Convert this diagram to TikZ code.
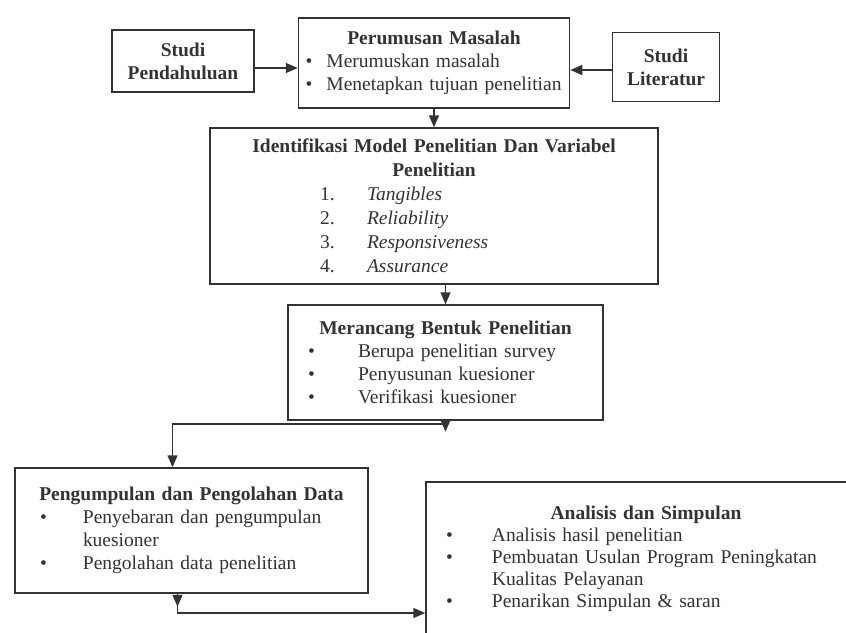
\documentclass[tikz,border=0pt]{standalone}
\usepackage{fontspec}
\setmainfont{Liberation Serif}
\usetikzlibrary{arrows.meta, calc}
\newcommand{\itemrow}[4]{\hspace*{#1pt}\makebox[#2pt][l]{#3}#4}
\newcommand{\boxtitle}[1]{\makebox[\hsize][c]{\bfseries #1}}

\begin{document}
\begin{tikzpicture}[x=1pt, y=-1pt,
    box/.style={draw=black!80, line width=1.5pt, inner sep=0pt, align=left, text=black!80,
                font=\fontsize{19.5}{23}\selectfont},
    flow/.style={draw=black!80, line width=1.5pt, -{Triangle[length=12pt, width=10pt]}}]
    \useasboundingbox (0,0) rectangle (846,632);

    % Top row : Studi Pendahuluan, Perumusan Masalah, Studi Literatur
    \node[box, align=center, minimum width=142pt, minimum height=62pt] (pend) at (183,61)
        {\textbf{Studi}\\\textbf{Pendahuluan}};
    \node[box, minimum width=271pt, minimum height=90pt, text width=271pt] (rumus) at (434,63)
        {\boxtitle{Perumusan Masalah}\\
         \itemrow{7}{21}{\textbullet}{Merumuskan masalah}\\
         \itemrow{7}{21}{\textbullet}{Menetapkan tujuan penelitian}};
    \node[box, align=center, minimum width=107pt, minimum height=69pt] (lit) at (666,67)
        {\textbf{Studi}\\\textbf{Literatur}};

    % Identifikasi model dan variabel
    \node[box, minimum width=448pt, minimum height=156pt, text width=448pt,
          font=\fontsize{19.5}{24}\selectfont] (ident) at (434,206)
        {\boxtitle{Identifikasi Model Penelitian Dan Variabel}\\
         \boxtitle{Penelitian}\\
         \itemrow{110}{47}{1.}{\textit{Tangibles}}\\
         \itemrow{110}{47}{2.}{\textit{Reliability}}\\
         \itemrow{110}{47}{3.}{\textit{Responsiveness}}\\
         \itemrow{110}{47}{4.}{\textit{Assurance}}};

    % Merancang bentuk penelitian
    \node[box, minimum width=315pt, minimum height=115pt, text width=315pt] (rancang) at (445.5,362.5)
        {\boxtitle{Merancang Bentuk Penelitian}\\
         \itemrow{20}{50}{\textbullet}{Berupa penelitian survey}\\
         \itemrow{20}{50}{\textbullet}{Penyusunan kuesioner}\\
         \itemrow{20}{50}{\textbullet}{Verifikasi kuesioner}};

    % Pengumpulan dan pengolahan data
    \node[box, minimum width=353pt, minimum height=125pt, text width=353pt] (kumpul) at (191.5,530.5)
        {\boxtitle{Pengumpulan dan Pengolahan Data}\\
         \itemrow{25}{43}{\textbullet}{Penyebaran dan pengumpulan}\\
         \hspace*{68pt}kuesioner\\
         \itemrow{25}{43}{\textbullet}{Pengolahan data penelitian}};

    % Analisis dan simpulan (runs off the page)
    \node[box, minimum width=440pt, minimum height=154pt, text width=440pt,
          font=\fontsize{19.5}{22}\selectfont] (ana) at (646,559)
        {\boxtitle{Analisis dan Simpulan}\\
         \itemrow{20}{46}{\textbullet}{Analisis hasil penelitian}\\
         \itemrow{20}{46}{\textbullet}{Pembuatan Usulan Program Peningkatan}\\
         \hspace*{66pt}Kualitas Pelayanan\\
         \itemrow{20}{46}{\textbullet}{Penarikan Simpulan \& saran}};

    % Connectors
    \draw[flow] ([yshift=-7pt]pend.east) -- ([yshift=-7pt]pend.east -| rumus.west);
    \draw[flow] ([yshift=-3pt]lit.west) -- ([yshift=-3pt]lit.west -| rumus.east);
    \draw[flow] (rumus.south) -- (ident.north);
    \draw[flow] (rancang.north |- ident.south) -- (rancang.north);

    \coordinate (turnA) at ([yshift=-3pt]rancang.south);
    \draw[flow] (rancang.south) -- ++(0,11);
    \draw[flow] (turnA) -| ([xshift=-19pt]kumpul.north);

    \coordinate (turnB) at ([xshift=-14pt]kumpul.south);
    \coordinate (lowrow) at (0,613);
    \draw[flow] (turnB) -- ++(0,13);
    \draw[flow] (turnB) |- (ana.west |- lowrow);
\end{tikzpicture}
\end{document}
